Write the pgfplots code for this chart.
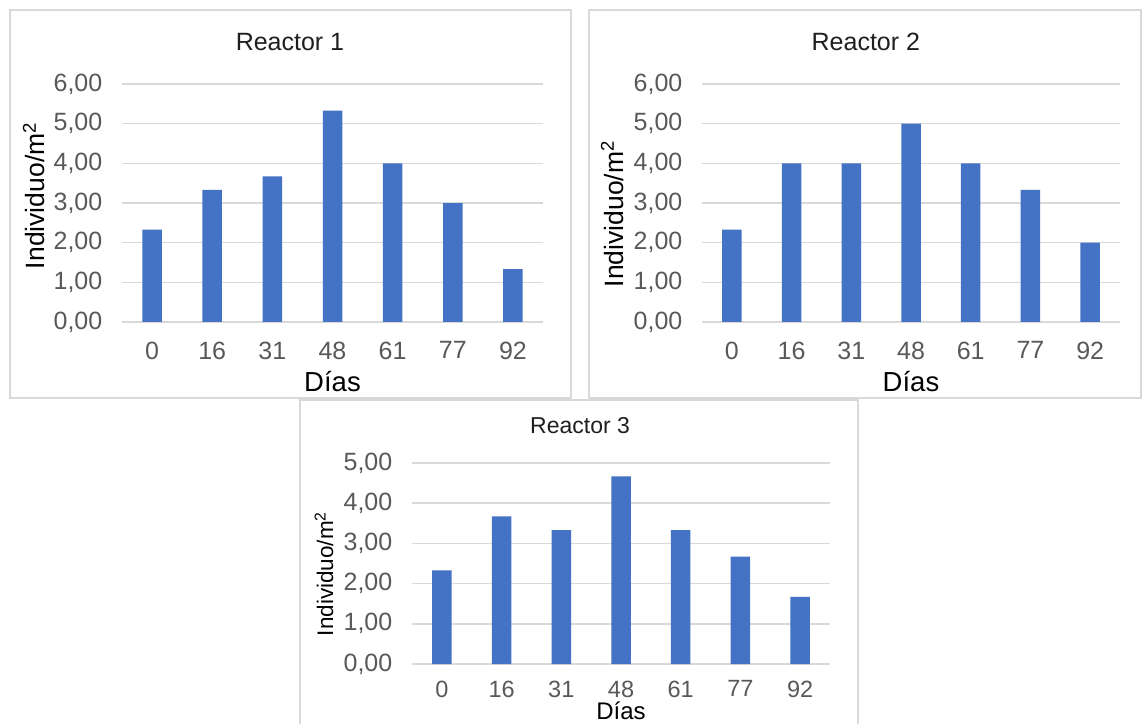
\documentclass[border=0pt]{standalone}
\usepackage{pgfplots}
\pgfplotsset{compat=1.18}
\usepackage{fontspec}
\setmainfont{Liberation Sans}
\definecolor{barblue}{HTML}{4472C4}
\definecolor{gridgray}{HTML}{D9D9D9}
\definecolor{ticklab}{HTML}{595959}
\definecolor{boxgray}{HTML}{D9D9D9}
\pgfplotsset{
  reactor/.style={
    scale only axis,
    anchor=south west,
    ybar,
    bar width=19.5pt,
    ymin=0,
    xmin=-0.5, xmax=6.5,
    xtick={0,...,6},
    xticklabels={0,16,31,48,61,77,92},
    axis line style={draw=none},
    tick style={draw=none},
    major tick length=0pt,
    ymajorgrids,
    grid style={draw=gridgray, line width=1.5pt},
    /pgf/number format/assume math mode=true,
    yticklabel style={/pgf/number format/fixed, /pgf/number format/fixed zerofill, /pgf/number format/precision=2, /pgf/number format/use comma},
    ticklabel style={font=\fontsize{25}{30}\selectfont, text=ticklab},
    yticklabel style={anchor=east, inner sep=0pt, xshift=-19.5pt},
    xticklabel style={anchor=north, inner sep=0pt, yshift=-19.5pt},
    title style={font=\fontsize{25}{30}\selectfont, text=black!88, anchor=center},
    xlabel style={font=\fontsize{27.5}{33}\selectfont, text=black, anchor=center},
    ylabel style={font=\fontsize{26.5}{32}\selectfont, text=black, anchor=center},
  }
}
\begin{document}
\begin{tikzpicture}[x=1pt,y=1pt]
\fill[white] (0,0) rectangle (1145,723);
\draw[boxgray, line width=1.5pt] (10,713) rectangle (571,325);
\draw[boxgray, line width=1.5pt] (589,713) rectangle (1141,325);
\draw[boxgray, line width=1.5pt] (300,-5) rectangle (858,323);

% Reactor 1
\begin{axis}[reactor, at={(122pt,401pt)}, width=421pt, height=238pt,
  ymax=6, ytick={0,1,...,6},
  title={Reactor 1}, title style={at={(rel axis cs:0.399,1.151)}},
  xlabel={Días}, xlabel style={at={(rel axis cs:0.5,-0.248)}},
  ylabel={Individuo/m\textsuperscript{2}}, ylabel style={at={(rel axis cs:-0.209,0.53)}},
]
\addplot[fill=barblue, draw=none] coordinates {(0,2.33) (1,3.33) (2,3.67) (3,5.33) (4,4.00) (5,3.00) (6,1.33)};
\end{axis}

% Reactor 2
\begin{axis}[reactor, at={(702pt,401pt)}, width=418pt, height=238pt,
  ymax=6, ytick={0,1,...,6},
  title={Reactor 2}, title style={at={(rel axis cs:0.392,1.151)}},
  xlabel={Días}, xlabel style={at={(rel axis cs:0.5,-0.248)}},
  ylabel={Individuo/m\textsuperscript{2}}, ylabel style={at={(rel axis cs:-0.215,0.454)}},
]
\addplot[fill=barblue, draw=none] coordinates {(0,2.33) (1,4.00) (2,4.00) (3,5.00) (4,4.00) (5,3.33) (6,2.00)};
\end{axis}

% Reactor 3
\begin{axis}[reactor, at={(412pt,59pt)}, width=418pt, height=201pt,
  ymax=5, ytick={0,1,...,5},
  xticklabel style={font=\fontsize{23.5}{28}\selectfont, yshift=3pt},
  title={Reactor 3}, title style={at={(rel axis cs:0.402,1.154)}, font=\fontsize{23}{28}\selectfont},
  xlabel={Días}, xlabel style={at={(rel axis cs:0.5,-0.233)}, font=\fontsize{24}{28}\selectfont},
  ylabel={Individuo/m\textsuperscript{2}}, ylabel style={at={(rel axis cs:-0.2105,0.448)}, font=\fontsize{22.5}{27}\selectfont},
]
\addplot[fill=barblue, draw=none] coordinates {(0,2.33) (1,3.67) (2,3.33) (3,4.67) (4,3.33) (5,2.67) (6,1.67)};
\end{axis}

\pgfresetboundingbox
\useasboundingbox (0,0) rectangle (1145,723);
\end{tikzpicture}
\end{document}
